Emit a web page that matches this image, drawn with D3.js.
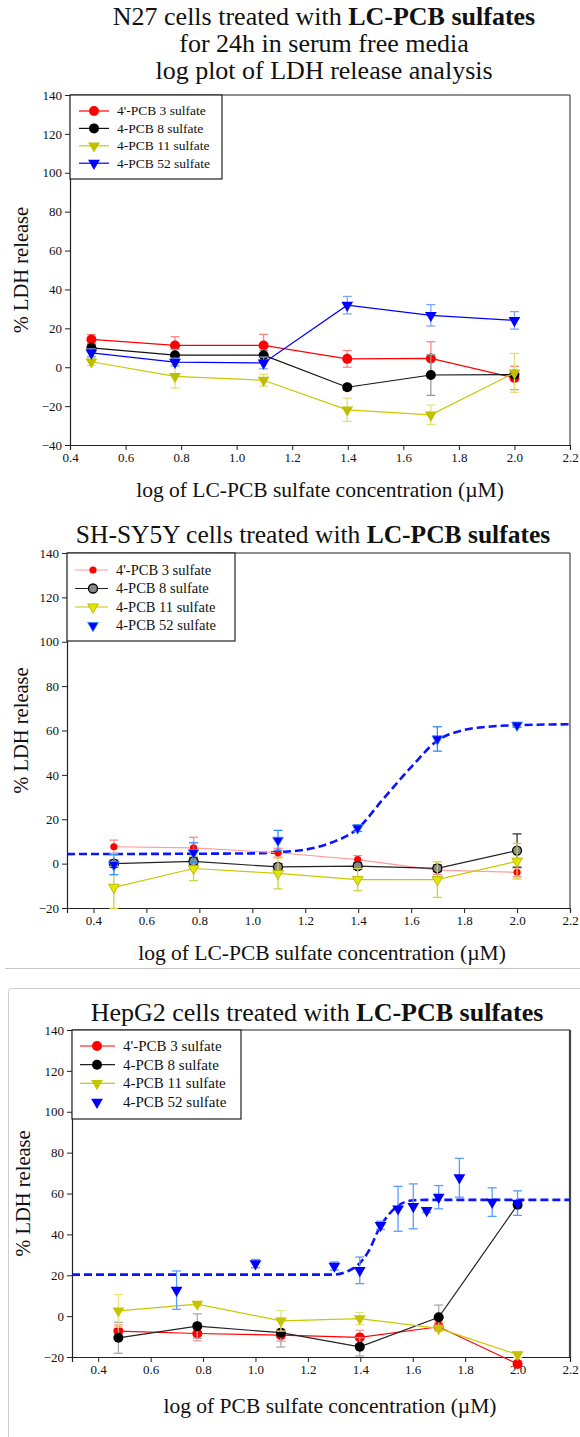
<!DOCTYPE html>
<html><head><meta charset="utf-8">
<script src="https://cdn.jsdelivr.net/npm/d3@7"></script>
<style>
body{margin:0;background:#fff}
svg{display:block}
text{font-family:"Liberation Serif","Times New Roman",serif;fill:#111}
</style>
</head><body>
<svg id="chart" width="580" height="1437"></svg>
<script>
// ---------------- DATA ----------------
const seriesNames = ["4'-PCB 3 sulfate", "4-PCB 8 sulfate", "4-PCB 11 sulfate", "4-PCB 52 sulfate"];
const logConc = [0.477, 0.778, 1.097, 1.398, 1.699, 2.0];
const xTickValues = [0.4, 0.6, 0.8, 1.0, 1.2, 1.4, 1.6, 1.8, 2.0, 2.2];
const yTicksN27 = [-40, -20, 0, 20, 40, 60, 80, 100, 120, 140];
const yTicksOther = [-20, 0, 20, 40, 60, 80, 100, 120, 140];

// N27
const n27Pcb3 = [14.3, 11.2, 11.2, 4.3, 4.5, -5.5];
const n27Pcb3Err = [2.5, 4.5, 5.7, 4.3, 8.6, 6];
const n27Pcb8 = [10, 6.2, 6.2, -10.3, -4.0, -3.8];
const n27Pcb8Err = [2, 3, 2.5, 1.5, 10.5, 1];
const n27Pcb11 = [2.8, -4.7, -6.7, -21.9, -24.5, -2.9];
const n27Pcb11Err = [2, 6, 3, 6, 5, 10];
const n27Pcb52 = [7.4, 2.6, 2.2, 31.9, 26.7, 24.1];
const n27Pcb52Err = [2, 2, 3, 4.5, 5.5, 4.5];

// SH-SY5Y
const shPcb3 = [7.6, 7.1, 4.9, 1.8, -2.9, -3.9];
const shPcb3Err = [3, 4.8, 2, 1.8, 2, 2];
const shPcb8 = [0, 1.0, -1.5, -1.1, -2.1, 5.9];
const shPcb8Err = [1.5, 1.5, 1.5, 1.5, 1.5, 7.5];
const shPcb11 = [-10.7, -2.2, -4.4, -7.2, -7.2, 1.1];
const shPcb11Err = [9.5, 5.5, 7, 5, 8, 8];
const shPcb52 = [-0.5, 4.9, 10.5, 16, 56.2, 62.4];
const shPcb52Err = [4.5, 4.5, 4.5, 1.5, 5.5, 1];
const shFitX = [0.3, 1.0, 1.1, 1.2, 1.3, 1.4, 1.49, 1.6, 1.7, 1.8, 1.9, 2.0, 2.2];
const shFitY = [4.3, 4.6, 5.2, 6.3, 9.5, 16, 28.5, 43.5, 55.5, 60.2, 61.8, 62.4, 62.8];

// HepG2
const hepPcb3 = [-7.3, -8.5, -9.3, -10.4, -5.2, -23.4];
const hepPcb3Err = [3, 3.5, 3, 3.5, 2, 1.5];
const hepPcb8 = [-10.6, -4.9, -8.1, -15.0, -0.6, 54.5];
const hepPcb8Err = [7.6, 6, 7, 4.5, 6, 1.5];
const hepPcb11 = [2.6, 5.9, -2.3, -1.2, -6, -18.8];
const hepPcb11Err = [8, 1, 5, 3, 1.5, 1.5];
const hepPcb52X = [0.699, 1.0, 1.301, 1.398, 1.477, 1.544, 1.602, 1.653, 1.699, 1.778, 1.903, 2.0];
const hepPcb52 = [12.7, 25.7, 24.5, 22.4, 44.4, 52.5, 53.7, 51.7, 58.2, 67.7, 55.8, 55.3];
const hepPcb52Err = [9.4, 2, 2, 6.5, 2, 11, 11, 1, 5.7, 9.5, 7, 6];
const hepFitX = [0.3, 1.30, 1.354, 1.395, 1.43, 1.472, 1.506, 1.537, 1.569, 1.607, 1.65, 2.2];
const hepFitY = [20.3, 20.3, 22.1, 25.5, 31.4, 42.8, 49.3, 53.3, 55.8, 56.7, 56.9, 56.9];

// ---------------- DRAWING ----------------
const svg = d3.select("#chart");
svg.append("rect").attr("width", 580).attr("height", 1437).attr("fill", "#fff");

// separator and framed third panel
svg.append("line").attr("x1", 5).attr("x2", 580).attr("y1", 968.5).attr("y2", 968.5)
  .attr("stroke", "#c4c4c4").attr("stroke-width", 1);
svg.append("rect").attr("x", 8.5).attr("y", 988.5).attr("width", 600).attr("height", 500).attr("rx", 3)
  .attr("fill", "none").attr("stroke", "#cfcfcf").attr("stroke-width", 1);

function tri(size) { return d3.symbol().type(d3.symbolTriangle).size(size)(); }

function drawPanel(p) {
  const g = svg.append("g");
  const x = d3.scaleLinear().domain(p.xDomain).range([p.left, p.right]);
  const y = d3.scaleLinear().domain(p.yDomain).range([p.bottom, p.top]);

  // titles
  p.titleLines.forEach((ln, i) => {
    const t = g.append("text").attr("x", p.titleX).attr("y", p.titleY + i * p.titleGap)
      .attr("text-anchor", "middle").attr("font-size", p.titleSize);
    ln.forEach(part => t.append("tspan").text(part.t).attr("font-weight", part.b ? "bold" : "normal"));
  });

  // axes
  const xAxis = d3.axisBottom(x).tickValues(xTickValues).tickFormat(d3.format(".1f")).tickSize(5).tickPadding(3);
  const yAxis = d3.axisLeft(y).tickValues(p.yTicks).tickFormat(d3.format("d")).tickSize(5).tickPadding(3);
  const gx = g.append("g").attr("transform", `translate(0,${p.bottom})`).call(xAxis);
  const gy = g.append("g").attr("transform", `translate(${p.left},0)`).call(yAxis);
  [gx, gy].forEach(a => {
    a.select(".domain").attr("stroke", "#222").attr("stroke-width", 1.2);
    a.selectAll(".tick line").attr("stroke", "#222");
    a.selectAll(".tick text").attr("font-size", 13).attr("fill", "#222")
      .attr("font-family", "'Liberation Serif',serif");
  });
  // top and right frame
  g.append("line").attr("x1", p.left).attr("x2", p.right).attr("y1", p.top).attr("y2", p.top)
    .attr("stroke", "#222").attr("stroke-width", 1.2);
  g.append("line").attr("x1", p.right).attr("x2", p.right).attr("y1", p.top).attr("y2", p.bottom)
    .attr("stroke", "#444").attr("stroke-width", p.rightWidth || 1.2);

  // axis labels
  g.append("text").attr("x", p.xLabelX).attr("y", p.xLabelY).attr("text-anchor", "middle")
    .attr("font-size", 21.5).text(p.xLabel);
  g.append("text").attr("transform", `translate(${p.yLabelX},${(p.top + p.bottom) / 2}) rotate(-90)`)
    .attr("text-anchor", "middle").attr("font-size", 20.5).text("% LDH release");

  // fit curve
  if (p.fitX) {
    const pts = p.fitX.map((v, i) => [v, p.fitY[i]]);
    g.append("path").attr("d", d3.line().x(d => x(d[0])).y(d => y(d[1])).curve(d3.curveMonotoneX)(pts))
      .attr("fill", "none").attr("stroke", "#0a14ff").attr("stroke-width", 2.6).attr("stroke-dasharray", "8,4");
  }

  // series
  p.series.forEach(s => {
    const pts = s.y.map((v, i) => ({ x: s.x[i], y: v, e: s.e[i] }));
    if (s.line) {
      g.append("path").attr("d", d3.line().x(d => x(d.x)).y(d => y(d.y))(pts))
        .attr("fill", "none").attr("stroke", s.line).attr("stroke-width", 1.2);
    }
    const eb = g.append("g").attr("stroke", s.err).attr("stroke-width", 1.3);
    pts.forEach(d => {
      const cx = x(d.x), y1 = y(d.y + d.e), y2 = y(d.y - d.e);
      eb.append("line").attr("x1", cx).attr("x2", cx).attr("y1", y1).attr("y2", y2);
      eb.append("line").attr("x1", cx - 4.5).attr("x2", cx + 4.5).attr("y1", y1).attr("y2", y1);
      eb.append("line").attr("x1", cx - 4.5).attr("x2", cx + 4.5).attr("y1", y2).attr("y2", y2);
    });
    pts.forEach(d => drawMarker(g, s, x(d.x), y(d.y)));
  });

  // legend
  const L = p.legend;
  g.append("rect").attr("x", p.left).attr("y", p.top).attr("width", L.w).attr("height", L.h)
    .attr("fill", "#fff").attr("stroke", "#222").attr("stroke-width", 1.2);
  p.series.forEach((s, i) => {
    const ly = L.y0 + i * L.dy;
    if (s.line) {
      g.append("line").attr("x1", L.lx1).attr("x2", L.lx2).attr("y1", ly).attr("y2", ly)
        .attr("stroke", s.line).attr("stroke-width", 1.2);
    }
    drawMarker(g, s, L.mx, ly);
    g.append("text").attr("x", L.tx).attr("y", ly + L.fs * 0.33).attr("font-size", L.fs).text(seriesNames[i]);
  });
}

function drawMarker(g, s, cx, cy) {
  if (s.shape === "circle") {
    g.append("circle").attr("cx", cx).attr("cy", cy).attr("r", s.r)
      .attr("fill", s.fill).attr("stroke", s.stroke || "none").attr("stroke-width", s.sw || 1);
  } else {
    g.append("path").attr("d", tri(s.size)).attr("transform", `translate(${cx},${cy}) rotate(180)`)
      .attr("fill", s.fill).attr("stroke", s.stroke || "none").attr("stroke-width", s.sw || 1);
  }
}

// Panel 1: N27
drawPanel({
  left: 70, right: 570, top: 95, bottom: 445, xDomain: [0.4, 2.2], yDomain: [-40, 140], yTicks: yTicksN27,
  titleX: 324, titleY: 25, titleGap: 27, titleSize: 26,
  titleLines: [[{ t: "N27 cells treated with " }, { t: "LC-PCB sulfates", b: true }],
               [{ t: "for 24h in serum free media" }], [{ t: "log plot of LDH release analysis" }]],
  xLabel: "log of LC-PCB sulfate concentration (\u00B5M)", xLabelX: 320, xLabelY: 497, yLabelX: 28,
  legend: { w: 152, h: 84, y0: 111, dy: 17.4, lx1: 79, lx2: 109, mx: 94, tx: 117, fs: 13.5 },
  series: [
    { x: logConc, y: n27Pcb3, e: n27Pcb3Err, line: "#ff0000", err: "#ff8585", shape: "circle", r: 5, fill: "#ff0000" },
    { x: logConc, y: n27Pcb8, e: n27Pcb8Err, line: "#111", err: "#9a9a9a", shape: "circle", r: 5, fill: "#000" },
    { x: logConc, y: n27Pcb11, e: n27Pcb11Err, line: "#c9c900", err: "#e2e27a", shape: "tri", size: 60, fill: "#bfbf00" },
    { x: logConc, y: n27Pcb52, e: n27Pcb52Err, line: "#0000ff", err: "#7fa6ff", shape: "tri", size: 60, fill: "#0000ff" }
  ]
});

// Panel 2: SH-SY5Y
drawPanel({
  left: 67, right: 570, top: 553, bottom: 908, xDomain: [0.3, 2.2], yDomain: [-20, 140], yTicks: yTicksOther,
  titleX: 313, titleY: 543, titleGap: 0, titleSize: 25.5,
  titleLines: [[{ t: "SH-SY5Y cells treated with " }, { t: "LC-PCB sulfates", b: true }]],
  xLabel: "log of LC-PCB sulfate concentration (\u00B5M)", xLabelX: 322, xLabelY: 960, yLabelX: 28,
  fitX: shFitX, fitY: shFitY,
  legend: { w: 168, h: 88, y0: 570, dy: 18.5, lx1: 75, lx2: 108, mx: 93, tx: 116, fs: 14.5 },
  series: [
    { x: logConc, y: shPcb3, e: shPcb3Err, line: "#ff9c9c", err: "#ff8a8a", shape: "circle", r: 3.6, fill: "#ff0000" },
    { x: logConc, y: shPcb8, e: shPcb8Err, line: "#222", err: "#333", shape: "circle", r: 4.5, fill: "#888", stroke: "#000", sw: 1.3 },
    { x: logConc, y: shPcb11, e: shPcb11Err, line: "#c9c900", err: "#d2d23c", shape: "tri", size: 50, fill: "#e4e400", stroke: "#b0b000", sw: 0.8 },
    { x: logConc, y: shPcb52, e: shPcb52Err, line: null, err: "#2f8fff", shape: "tri", size: 50, fill: "#0000ff", stroke: "#2f8fff", sw: 0.8 }
  ]
});

// Panel 3: HepG2
drawPanel({
  left: 72, right: 570, top: 1030, bottom: 1357, xDomain: [0.3, 2.2], yDomain: [-20, 140], yTicks: yTicksOther,
  rightWidth: 2.2,
  titleX: 317, titleY: 1021, titleGap: 0, titleSize: 26,
  titleLines: [[{ t: "HepG2 cells treated with " }, { t: "LC-PCB sulfates", b: true }]],
  xLabel: "log of PCB sulfate concentration (\u00B5M)", xLabelX: 330, xLabelY: 1413, yLabelX: 30,
  fitX: hepFitX, fitY: hepFitY,
  legend: { w: 169, h: 89, y0: 1046, dy: 18.7, lx1: 80, lx2: 115, mx: 97, tx: 123, fs: 15 },
  series: [
    { x: logConc, y: hepPcb3, e: hepPcb3Err, line: "#ff0000", err: "#ff9a9a", shape: "circle", r: 5, fill: "#ff0000" },
    { x: logConc, y: hepPcb8, e: hepPcb8Err, line: "#222", err: "#aaa", shape: "circle", r: 5, fill: "#000" },
    { x: logConc, y: hepPcb11, e: hepPcb11Err, line: "#c9c900", err: "#e6e680", shape: "tri", size: 60, fill: "#c4c400" },
    { x: hepPcb52X, y: hepPcb52, e: hepPcb52Err, line: null, err: "#5c9cff", shape: "tri", size: 60, fill: "#0000ff" }
  ]
});
</script>
</body></html>
